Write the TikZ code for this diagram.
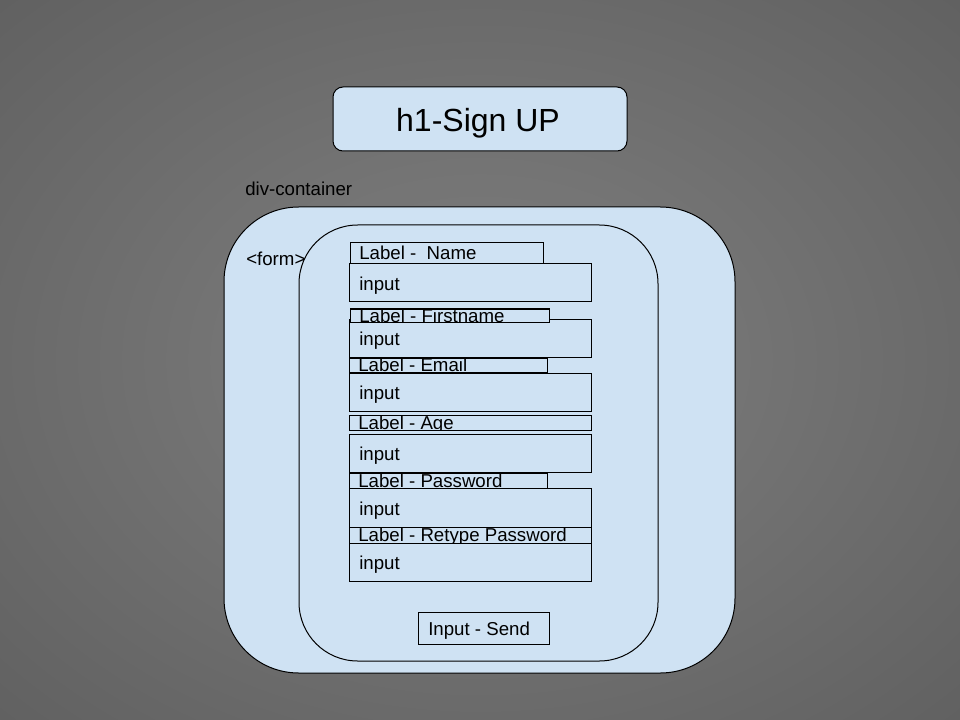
\documentclass[tikz,border=0pt]{standalone}
\usepackage{fontspec}
\setmainfont{Liberation Sans}
\usetikzlibrary{fit}
\definecolor{boxblue}{HTML}{CFE2F3}
\pgfdeclareradialshading{bgshade}{\pgfpoint{0bp}{0bp}}{rgb(0bp)=(0.475,0.475,0.475); rgb(12bp)=(0.46,0.46,0.46); rgb(72bp)=(0.255,0.255,0.255)}
\begin{document}
\begin{tikzpicture}[x=0.75pt,y=-0.75pt,
  box/.style={draw=black, line width=0.75pt, fill=boxblue, inner sep=0pt},
  txt/.style={anchor=base west, inner sep=0pt, font=\fontsize{14}{16}\selectfont, text=black}]
\shade[shading=bgshade] (0,0) rectangle (960,720);
\useasboundingbox (0,0) rectangle (960,720);

% title
\node[box, rounded corners=7.5pt, fit={(333,87) (627,151)}] (title) {};
\node[anchor=base, inner sep=0pt, font=\fontsize{24}{28}\selectfont] (titletext) at (478,132) {h1-Sign UP};

% containers
\node[txt] (divlabel) at (245,196) {div-container};
\node[box, rounded corners=56pt, fit={(224,207) (735,673)}] (div) {};
\node[txt] (formlabel) at (246,266) {<form>};
\node[box, rounded corners=44pt, fit={(299,225) (658,661)}] (form) {};

% inputs
\node[box, fit={(349,264) (591,302)}] (in1) {};
\node[txt] (in1t) at (359,291) {input};
\node[box, fit={(349,319) (591,357)}] (in2) {};
\node[txt] (in2t) at (359,345) {input};
\node[box, fit={(349,373) (591,411)}] (in3) {};
\node[txt] (in3t) at (359,399) {input};
\node[box, fit={(349,434) (591,472)}] (in4) {};
\node[txt] (in4t) at (359,460) {input};
\node[box, fit={(349,488) (591,527)}] (in5) {};
\node[txt] (in5t) at (359,515) {input};
\node[box, fit={(349,543) (591,581)}] (in6) {};
\node[txt] (in6t) at (359,569) {input};

% labels
\node[box, fit={(350,243) (543,264)}] (l1) {};
\begin{scope}\clip (l1.south west) rectangle (l1.north east);
\node[txt] (l1t) at (359,260) {Label -\ \ Name};\end{scope}
\node[box, fit={(350,309) (549,322)}] (l2) {};
\begin{scope}\clip (l2.south west) rectangle (l2.north east);
\node[txt] (l2t) at (359,322) {Label - Firstname};\end{scope}
\node[box, fit={(349,358) (547,372)}] (l3) {};
\begin{scope}\clip (l3.south west) rectangle (l3.north east);
\node[txt] (l3t) at (358,371.5) {Label - Email};\end{scope}
\node[box, fit={(349,415) (591,430)}] (l4) {};
\begin{scope}\clip (l4.south west) rectangle (l4.north east);
\node[txt] (l4t) at (358,429) {Label - Age};\end{scope}
\node[box, fit={(349,473) (547,488)}] (l5) {};
\begin{scope}\clip (l5.south west) rectangle (l5.north east);
\node[txt] (l5t) at (358,487) {Label - Password};\end{scope}
\node[box, fit={(349,527) (591,543)}] (l6) {};
\begin{scope}\clip (l6.south west) rectangle (l6.north east);
\node[txt] (l6t) at (358,541.5) {Label - Retype Password};\end{scope}

% send
\node[box, fit={(418,612) (549,644)}] (send) {};
\node[txt] (sendt) at (428,635) {Input - Send};
\end{tikzpicture}
\end{document}
